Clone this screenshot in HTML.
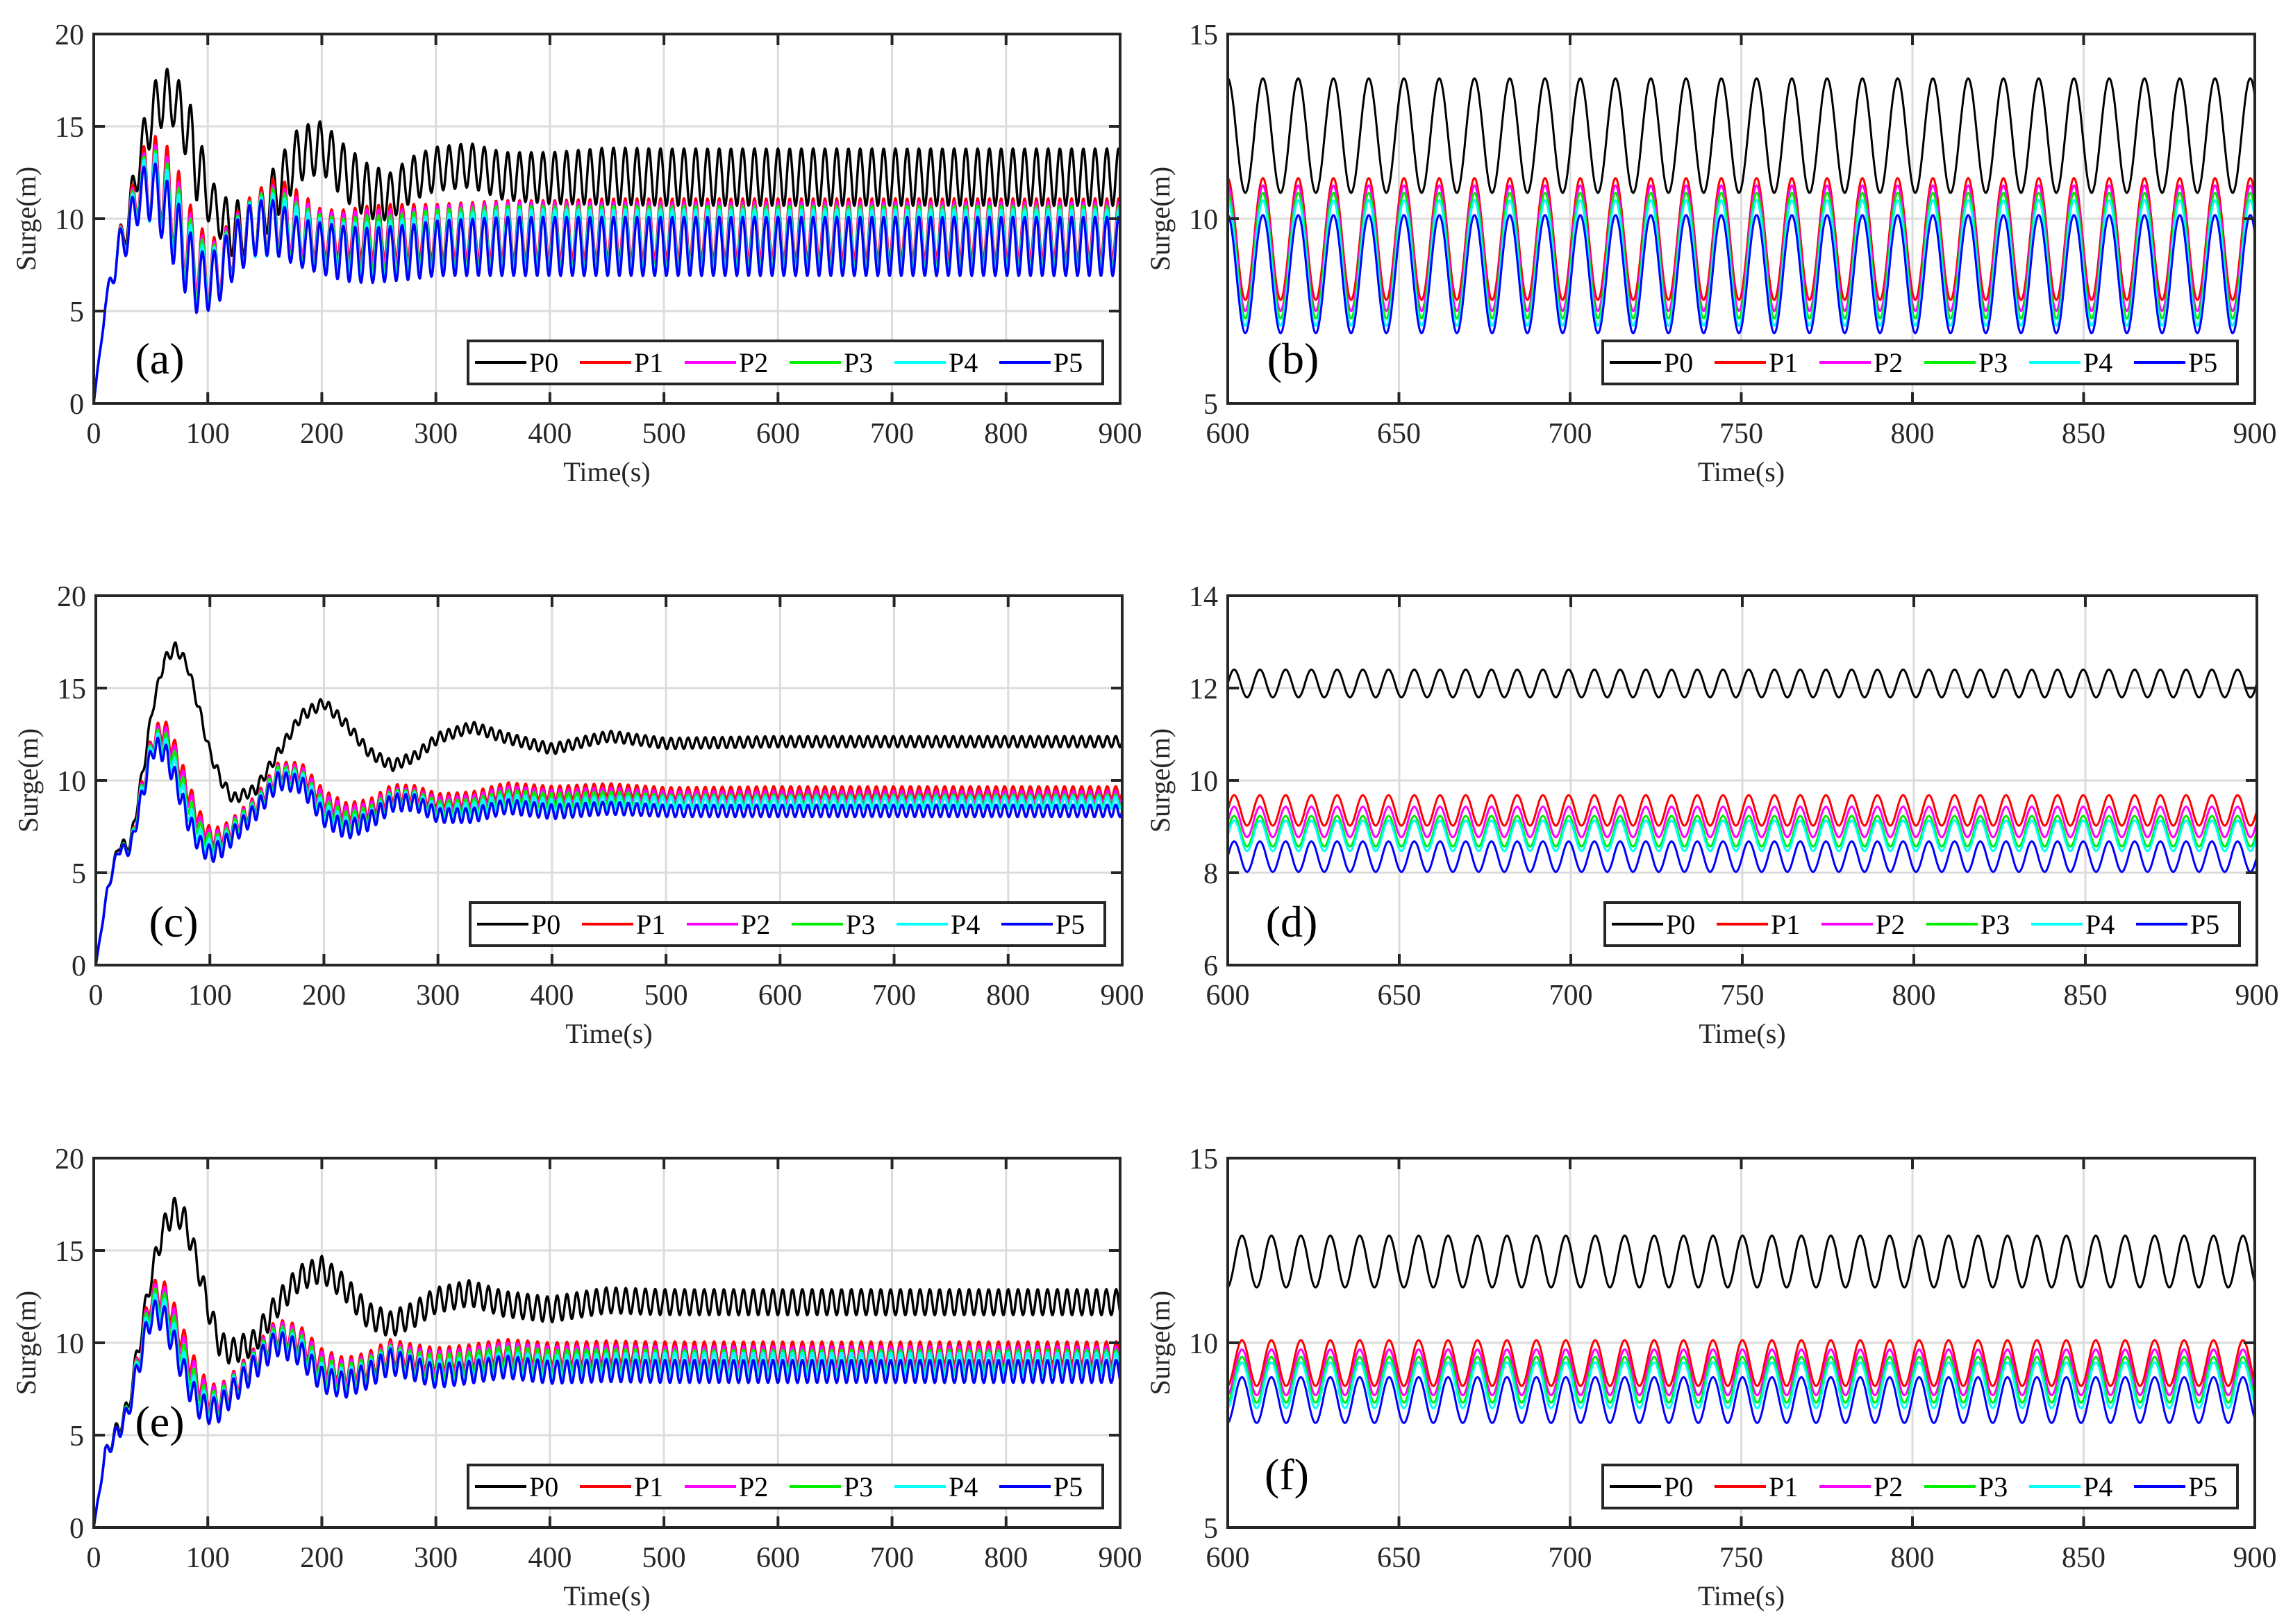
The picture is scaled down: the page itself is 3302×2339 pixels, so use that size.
<!DOCTYPE html>
<html><head><meta charset="utf-8">
<style>
html,body{margin:0;padding:0;background:#fff;}
svg{display:block;font-family:"Liberation Serif",serif;}
</style></head>
<body>
<svg id="fig" width="3302" height="2339" viewBox="0 0 3302 2339" xmlns="http://www.w3.org/2000/svg"></svg>
<script>
// Knot times (s) shared by all datasets
const knotTimes = [0,10,20,30,40,50,60,70,80,90,100,110,120,140,160,180,200,220,240,260,280,300,330,360,400,450,500,600,900];
const seriesNames = ['P0','P1','P2','P3','P4','P5'];
const seriesColors = ['#000000','#ff0000','#ff00ff','#00ee00','#00ffff','#0000ff'];

// Dataset A (panels a, b)
const periodA = 10.3;
const meanA_P0 = [0,5.2,8,10,13.2,15.5,16.6,16.5,15.2,13.2,11.2,10.2,9.5,9.5,11.5,13.5,13.9,12.5,11.5,11.2,12.2,12.7,12.9,12.3,12.2,12.3,12.25,12.25,12.25];
const meanA_P1 = [0,5.2,8,9.7,12,12.3,12.1,11,9.2,8,7.2,7.5,8.5,9.7,10.4,9.7,9.2,9.2,9.3,9.3,9.3,9.3,9.35,9.4,9.4,9.45,9.45,9.45,9.45];
const meanA_P2 = [0,5.2,8,9.6,11.8,12.1,11.8,10.6,8.9,7.7,7.0,7.4,8.4,9.6,10.2,9.5,9.0,8.9,9.0,9.0,9.0,9.1,9.15,9.2,9.2,9.2,9.2,9.2,9.2];
const meanA_P3 = [0,5.2,8,9.5,11.6,11.9,11.4,10.3,8.6,7.4,6.9,7.2,8.2,9.6,10.0,9.2,8.8,8.6,8.7,8.7,8.8,8.9,8.95,9.0,9.0,9.0,9.0,9.0,9.0];
const meanA_P4 = [0,5.2,8,9.4,11.4,11.8,11.1,9.9,8.3,7.0,6.7,7.1,8.1,9.5,9.7,9.0,8.6,8.4,8.3,8.4,8.5,8.6,8.7,8.8,8.8,8.8,8.8,8.8,8.8];
const meanA_P5 = [0,5.2,8,9.3,11.2,11.6,10.7,9.5,8,6.7,6.5,7,8,9.5,9.5,8.7,8.4,8.1,8,8.1,8.2,8.4,8.45,8.5,8.5,8.5,8.5,8.5,8.5];
const ampA_P0 = [0,0.3,1,1,1.2,1.5,1.6,1.5,1.7,2.2,1.3,1.2,1.5,1.5,1.5,1.5,1.4,1.5,1.5,1.3,1.2,1.2,1.2,1.3,1.4,1.55,1.55,1.55,1.55];
const ampA_P1 = [0,0.3,1,1.2,1.5,2.3,2.2,2.5,2.3,2,1.8,1.5,1.5,1.7,1.9,1.8,1.3,1.3,1.4,1.5,1.5,1.5,1.55,1.6,1.6,1.65,1.65,1.65,1.65];
const ampA_Mid = [0,0.3,1,1.1,1.4,2.0,2.0,2.2,2.1,1.9,1.6,1.5,1.5,1.6,1.7,1.6,1.4,1.4,1.5,1.5,1.55,1.6,1.65,1.7,1.7,1.7,1.7,1.7,1.7];
const ampA_P5 = [0,0.3,1,1.1,1.3,1.7,1.8,2,2,1.8,1.5,1.5,1.5,1.5,1.5,1.3,1.4,1.5,1.5,1.5,1.5,1.5,1.55,1.6,1.6,1.6,1.6,1.6,1.6];

// Dataset C (panels c, d)
const periodC = 7.5;
const meanC_P0 = [0,4,6.5,6.5,10,14,16.5,17.2,16.3,14,11.5,10,9,9.5,11.5,13.5,14.2,13,11.5,10.8,11.3,12.3,12.9,12.3,11.7,12.4,12.0,12.1,12.1];
const meanC_P1 = [0,4,6.3,6.3,9.5,12.3,12.8,11.5,9.6,8.0,7.0,7.0,7.5,8.7,10.5,10.5,9.0,8.3,8.5,9.3,9.3,8.9,9.0,9.5,9.3,9.5,9.3,9.35,9.35];
const meanC_P2 = [0,4,6.3,6.3,9.4,12.2,12.5,11.2,9.3,7.7,6.8,6.8,7.4,8.6,10.4,10.3,8.8,8.1,8.3,9.1,9.1,8.7,8.8,9.3,9.1,9.25,9.1,9.1,9.1];
const meanC_P3 = [0,4,6.3,6.3,9.3,12.1,12.2,10.9,8.9,7.4,6.6,6.6,7.3,8.5,10.3,10.1,8.5,7.8,8.1,9.0,9.0,8.5,8.6,9.1,8.9,9.05,8.9,8.9,8.9];
const meanC_P4 = [0,4,6.3,6.2,9.2,12.0,11.9,10.5,8.5,7.0,6.3,6.5,7.1,8.4,10.1,10.0,8.3,7.5,7.9,8.9,8.9,8.3,8.4,8.9,8.6,8.8,8.8,8.8,8.8];
const meanC_P5 = [0,4,6.3,6.2,9,11.8,11.6,10,8,6.6,6.0,6.3,7.0,8.3,10,9.8,8.0,7.3,7.8,8.8,8.8,8.1,8.1,8.6,8.3,8.5,8.35,8.35,8.35];
const ampC_P0 = [0,0.2,0.3,0.3,0.4,0.3,0.3,0.3,0.3,0.3,0.3,0.3,0.3,0.3,0.3,0.3,0.3,0.3,0.3,0.3,0.3,0.3,0.3,0.3,0.3,0.3,0.3,0.3,0.3];
const ampC_Low = [0,0.2,0.3,0.3,0.5,0.6,0.6,0.6,0.6,0.5,0.5,0.5,0.5,0.5,0.5,0.5,0.5,0.5,0.5,0.5,0.45,0.4,0.4,0.4,0.4,0.35,0.33,0.33,0.33];

// Dataset E (panels e, f)
const periodE = 8.6;
const meanE_P0 = [0,4,5.2,6.5,10,13.5,16,17.2,16.6,14.5,12,10,9.5,10,12,13.5,14,13,11.5,11,11.5,12.3,12.7,12.1,11.8,12.3,12.2,12.2,12.2];
const meanE_P1 = [0,4,5,6.3,9.5,12.5,12.8,11.5,9.8,8.2,7.2,7,7.6,9,10.6,10.3,9.0,8.5,8.8,9.5,9.3,9.1,9.3,9.6,9.4,9.5,9.45,9.45,9.45];
const meanE_P2 = [0,4,5,6.3,9.4,12.3,12.5,11.2,9.4,7.9,7.0,6.9,7.5,8.9,10.5,10.1,8.8,8.3,8.6,9.3,9.1,8.9,9.1,9.4,9.2,9.25,9.2,9.2,9.2];
const meanE_P3 = [0,4,5,6.3,9.3,12.1,12.2,10.8,9.0,7.5,6.7,6.7,7.4,8.8,10.3,9.9,8.5,8.1,8.5,9.2,8.9,8.7,8.9,9.2,9.0,9.05,9.0,9.0,9.0];
const meanE_P4 = [0,4,5,6.2,9.2,11.8,11.9,10.4,8.6,7.1,6.5,6.5,7.3,8.7,10.1,9.7,8.2,7.9,8.3,9.1,8.7,8.4,8.6,8.9,8.7,8.8,8.85,8.85,8.85];
const meanE_P5 = [0,4,5,6.2,9,11.5,11.5,10,8.2,6.8,6.3,6.4,7.2,8.6,10,9.5,8,7.7,8.2,9,8.6,8.2,8.4,8.7,8.4,8.5,8.45,8.45,8.45];
const ampE_P0 = [0,0.3,0.5,0.5,0.6,0.6,0.7,0.7,0.7,0.7,0.7,0.7,0.7,0.7,0.7,0.7,0.7,0.7,0.7,0.7,0.7,0.7,0.7,0.7,0.7,0.7,0.7,0.7,0.7];
const ampE_Low = [0,0.3,0.5,0.5,0.7,0.8,0.8,0.8,0.8,0.8,0.7,0.7,0.7,0.7,0.7,0.7,0.7,0.7,0.7,0.7,0.65,0.65,0.62,0.62,0.62,0.62,0.62,0.62,0.62];

// Tick labels
const xTicksFull = [0,100,200,300,400,500,600,700,800,900];
const xTicksZoom = [600,650,700,750,800,850,900];
const yTicks20 = [0,5,10,15,20];
const yTicks15 = [5,10,15];
const yTicks14 = [6,8,10,12,14];

const datasets = {
  A:{period:periodA, means:[meanA_P0,meanA_P1,meanA_P2,meanA_P3,meanA_P4,meanA_P5], amps:[ampA_P0,ampA_P1,ampA_Mid,ampA_Mid,ampA_Mid,ampA_P5]},
  C:{period:periodC, means:[meanC_P0,meanC_P1,meanC_P2,meanC_P3,meanC_P4,meanC_P5], amps:[ampC_P0,ampC_Low,ampC_Low,ampC_Low,ampC_Low,ampC_Low]},
  E:{period:periodE, means:[meanE_P0,meanE_P1,meanE_P2,meanE_P3,meanE_P4,meanE_P5], amps:[ampE_P0,ampE_Low,ampE_Low,ampE_Low,ampE_Low,ampE_Low]}
};

const NS='http://www.w3.org/2000/svg';
const svg=document.getElementById('fig');
function mk(tag,attrs,parent){const e=document.createElementNS(NS,tag);for(const k in attrs)e.setAttribute(k,attrs[k]);(parent||svg).appendChild(e);return e;}
function interp(arr,t){
  for(let i=0;i<knotTimes.length-1;i++){
    if(t<=knotTimes[i+1]){const f=(t-knotTimes[i])/(knotTimes[i+1]-knotTimes[i]);return arr[i]+(arr[i+1]-arr[i])*f;}
  }
  return arr[arr.length-1];
}

const panels=[
  {id:'a',ds:'A',x0:0,x1:900,y0:0,y1:20,xt:xTicksFull,yt:yTicks20,L:135,R:1613,T:49,B:581,lab:[230,516],step:0.5,lw:3.5},
  {id:'b',ds:'A',x0:600,x1:900,y0:5,y1:15,xt:xTicksZoom,yt:yTicks15,L:1768,R:3247,T:49,B:581,lab:[1862,516],step:0.2,lw:3},
  {id:'c',ds:'C',x0:0,x1:900,y0:0,y1:20,xt:xTicksFull,yt:yTicks20,L:138,R:1616,T:858,B:1390,lab:[250,1327],step:0.5,lw:3.5},
  {id:'d',ds:'C',x0:600,x1:900,y0:6,y1:14,xt:xTicksZoom,yt:yTicks14,L:1768,R:3250,T:858,B:1390,lab:[1860,1327],step:0.2,lw:3},
  {id:'e',ds:'E',x0:0,x1:900,y0:0,y1:20,xt:xTicksFull,yt:yTicks20,L:135,R:1613,T:1668,B:2200,lab:[230,2047],step:0.5,lw:3.5},
  {id:'f',ds:'E',x0:600,x1:900,y0:5,y1:15,xt:xTicksZoom,yt:yTicks15,L:1768,R:3247,T:1668,B:2200,lab:[1853,2123],step:0.2,lw:3}
];

panels.forEach(p=>{
  const g=mk('g',{});
  
  
  const sx=v=>p.L+(v-p.x0)/(p.x1-p.x0)*(p.R-p.L);
  const sy=v=>p.B-(v-p.y0)/(p.y1-p.y0)*(p.B-p.T);
  p.xt.forEach(v=>{const l=mk('line',{x1:sx(v),x2:sx(v),y1:p.T,y2:p.B,stroke:'#dcdcdc','stroke-width':3},g);});
  p.yt.forEach(v=>{const l=mk('line',{x1:p.L,x2:p.R,y1:sy(v),y2:sy(v),stroke:'#dcdcdc','stroke-width':3},g);});
  const cp=mk('clipPath',{id:'clip-'+p.id},g);mk('rect',{x:p.L,y:p.T,width:p.R-p.L,height:p.B-p.T},cp);
  const sg=mk('g',{'clip-path':'url(#clip-'+p.id+')'},g);
  const d=datasets[p.ds];
  for(let s=0;s<6;s++){
    let pts=[];
    for(let t=p.x0;t<=p.x1+1e-9;t+=p.step){
      const m=interp(d.means[s],t),a=interp(d.amps[s],t);
      const v=m+a*Math.sin(2*Math.PI*t/d.period);
      pts.push(sx(t).toFixed(1)+','+sy(v).toFixed(1));
    }
    const pl=mk('polyline',{points:pts.join(' '),fill:'none',stroke:seriesColors[s],'stroke-width':p.lw,'stroke-linejoin':'round'},sg);
    
    
  }
  p.xt.forEach(v=>{
    mk('line',{x1:sx(v),x2:sx(v),y1:p.B,y2:p.B-16,stroke:'#262626','stroke-width':4},g);
    mk('line',{x1:sx(v),x2:sx(v),y1:p.T,y2:p.T+16,stroke:'#262626','stroke-width':4},g);
    const t=mk('text',{x:sx(v),y:p.B+57,'font-size':42,'text-anchor':'middle',fill:'#262626'},g);t.textContent=v;
    
  });
  p.yt.forEach(v=>{
    mk('line',{x1:p.L,x2:p.L+16,y1:sy(v),y2:sy(v),stroke:'#262626','stroke-width':4},g);
    mk('line',{x1:p.R,x2:p.R-16,y1:sy(v),y2:sy(v),stroke:'#262626','stroke-width':4},g);
    const t=mk('text',{x:p.L-14,y:sy(v)+15,'font-size':42,'text-anchor':'end',fill:'#262626'},g);t.textContent=v;
    
  });
  const box=mk('rect',{x:p.L,y:p.T,width:p.R-p.L,height:p.B-p.T,fill:'none',stroke:'#262626','stroke-width':4},g);
  
  const xl=mk('text',{x:(p.L+p.R)/2,y:p.B+112,'font-size':40,'text-anchor':'middle',fill:'#262626'},g);xl.textContent='Time(s)';
  
  const yx=p.L-84,yy=(p.T+p.B)/2;
  const yl=mk('text',{x:yx,y:yy,'font-size':40,'text-anchor':'middle',fill:'#262626',transform:'rotate(-90 '+yx+' '+yy+')'},g);yl.textContent='Surge(m)';
  
  const pl=mk('text',{x:p.lab[0],y:p.lab[1]+22,'font-size':64,'text-anchor':'middle',fill:'#000'},g);pl.textContent='('+p.id+')';
  
  const lg=mk('g',{},g);
  
  const lw=914,lh=62,lr=p.R-25,lt=p.B-90;
  mk('rect',{x:lr-lw,y:lt,width:lw,height:lh,fill:'#fff',stroke:'#262626','stroke-width':4},lg);
  for(let s=0;s<6;s++){
    const x=lr-lw+10+s*151;
    const ln=mk('line',{x1:x,x2:x+74,y1:lt+lh/2,y2:lt+lh/2,stroke:seriesColors[s],'stroke-width':4},lg);
    
    const t=mk('text',{x:x+78,y:lt+lh/2+14,'font-size':40,fill:'#000'},lg);t.textContent=seriesNames[s];
    
  }
});
</script>
</body></html>
